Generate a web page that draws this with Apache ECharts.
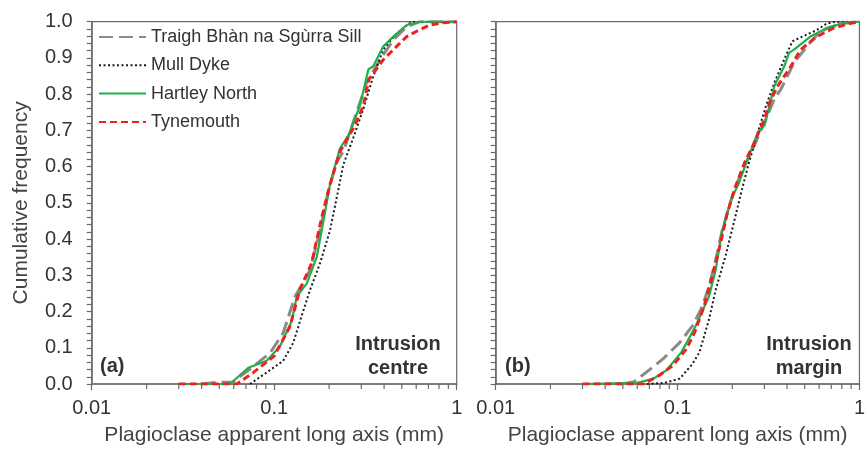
<!DOCTYPE html>
<html><head><meta charset="utf-8">
<script src="https://cdn.jsdelivr.net/npm/echarts@6/dist/echarts.min.js"></script>
<style>html,body{margin:0;padding:0;background:#fff}#c{width:868px;height:451px}</style>
</head><body><div id="c"></div>
<script>
const seriesNames = ['Traigh Bhàn na Sgùrra Sill', 'Mull Dyke', 'Hartley North', 'Tynemouth'];
const yTicks = ['0.0','0.1','0.2','0.3','0.4','0.5','0.6','0.7','0.8','0.9','1.0'];
const xMinorTicks = [0.02,0.03,0.04,0.05,0.06,0.07,0.08,0.09,0.2,0.3,0.4,0.5,0.6,0.7,0.8,0.9];

// Panel (a): intrusion centre
const traighA = [[0.04,0],[0.05,0.005],[0.059,0.005],[0.0737,0.041],[0.095,0.086],[0.112,0.141],[0.13,0.241],[0.157,0.314],[0.178,0.423],[0.198,0.532],[0.22,0.614],[0.239,0.641],[0.283,0.75],[0.321,0.832],[0.38,0.895],[0.45,0.95],[0.532,0.986],[0.63,1.0],[1,1]];
const mullA = [[0.0737,0],[0.091,0.032],[0.112,0.064],[0.127,0.113],[0.141,0.186],[0.157,0.259],[0.178,0.332],[0.202,0.423],[0.22,0.514],[0.239,0.605],[0.27,0.677],[0.308,0.759],[0.349,0.85],[0.396,0.923],[0.469,0.968],[0.556,0.997],[0.6,1],[1,1]];
const hartleyA = [[0.03,0],[0.0573,0],[0.0721,0.045],[0.091,0.064],[0.1076,0.104],[0.1247,0.173],[0.1328,0.241],[0.1507,0.277],[0.171,0.35],[0.182,0.423],[0.202,0.55],[0.229,0.65],[0.255,0.686],[0.295,0.768],[0.328,0.868],[0.349,0.877],[0.396,0.932],[0.45,0.959],[0.532,0.991],[0.63,1],[1,1]];
const tyneA = [[0.03,0],[0.0623,0],[0.077,0.032],[0.1,0.077],[0.122,0.159],[0.138,0.259],[0.16,0.332],[0.182,0.459],[0.202,0.55],[0.229,0.641],[0.277,0.714],[0.308,0.768],[0.33,0.84],[0.396,0.895],[0.469,0.932],[0.532,0.959],[0.6,0.973],[0.714,0.991],[0.845,0.997],[1,1]];

// Panel (b): intrusion margin
const traighB = [[0.05,0],[0.0575,0.006],[0.068,0.034],[0.0835,0.07],[0.103,0.115],[0.121,0.161],[0.137,0.215],[0.149,0.27],[0.162,0.342],[0.176,0.424],[0.199,0.515],[0.225,0.587],[0.255,0.641],[0.301,0.723],[0.341,0.787],[0.371,0.815],[0.437,0.887],[0.515,0.932],[0.58,0.962],[0.661,0.982],[0.813,0.995],[1,1]];
const mullB = [[0.068,0],[0.085,0.003],[0.103,0.015],[0.121,0.056],[0.132,0.088],[0.149,0.179],[0.162,0.26],[0.183,0.351],[0.199,0.424],[0.225,0.533],[0.245,0.605],[0.277,0.696],[0.307,0.769],[0.341,0.832],[0.386,0.896],[0.428,0.946],[0.486,0.959],[0.583,0.977],[0.661,0.995],[0.74,1],[1,1]];
const hartleyB = [[0.03,0],[0.06,0.003],[0.0738,0.015],[0.087,0.038],[0.105,0.088],[0.126,0.161],[0.149,0.242],[0.162,0.315],[0.176,0.424],[0.199,0.515],[0.216,0.551],[0.24,0.614],[0.277,0.696],[0.301,0.714],[0.341,0.823],[0.386,0.877],[0.41,0.914],[0.437,0.923],[0.537,0.959],[0.661,0.982],[0.813,0.997],[1,1]];
const tyneB = [[0.03,0],[0.0653,0],[0.08,0.025],[0.0946,0.052],[0.112,0.097],[0.124,0.142],[0.14,0.215],[0.155,0.297],[0.172,0.387],[0.187,0.469],[0.207,0.542],[0.235,0.614],[0.261,0.66],[0.301,0.732],[0.321,0.778],[0.356,0.823],[0.42,0.877],[0.475,0.923],[0.583,0.959],[0.718,0.982],[0.884,0.995],[1,1]];

const styles = [
  {color:'#8a8a8a', width:3, type:[14,6]},
  {color:'#1a1a1a', width:2, type:[2,2.5]},
  {color:'#1faf4b', width:2.2, type:'solid'},
  {color:'#ee2020', width:3, type:[7,4]}
];
const panels = [[traighA, mullA, hartleyA, tyneA],[traighB, mullB, hartleyB, tyneB]];
const FONT = 'Liberation Sans, Arial, sans-serif';
const AX = '#6a6a6a';

const chart = echarts.init(document.getElementById('c'), null, {renderer:'canvas'});
const grids = [
  {left:91.7, top:21.7, width:365, height:366.6},
  {left:495.7, top:21.7, width:371, height:366.6}
];
const xAxes = grids.map((g,i)=>({
  type:'log', logBase:10, min:0.01, max:1, gridIndex:i,
  name:'Plagioclase apparent long axis (mm)', nameLocation:'middle', nameGap:41,
  nameTextStyle:{fontFamily:FONT, fontSize:21, color:'#444'},
  axisLine:{lineStyle:{color:AX, width:1.5}},
  axisTick:{show:true, inside:false, length:6, lineStyle:{color:AX, width:1.2}},
  minorTick:{show:false},
  splitLine:{show:false},
  axisLabel:{fontFamily:FONT, fontSize:20, color:'#333', margin:14,
    formatter:v=>String(+v.toPrecision(3))}
}));
const yAxes = grids.map((g,i)=>({
  type:'value', min:0, max:1, interval:0.1, gridIndex:i,
  name: i===0 ? 'Cumulative frequency' : '', nameLocation:'middle', nameGap:60,
  nameTextStyle:{fontFamily:FONT, fontSize:21, color:'#444'},
  axisLine:{show:true, lineStyle:{color:AX, width:1.5}},
  axisTick:{show:true, inside:false, length:5, lineStyle:{color:AX, width:1.2}},
  minorTick:{show:true, splitNumber:5, length:5, lineStyle:{color:AX, width:1.2}},
  splitLine:{show:false},
  axisLabel:{show:i===0, fontFamily:FONT, fontSize:20, color:'#333', margin:19,
    formatter:(v)=>yTicks[Math.round(v*10)]}
}));

const series = [];
panels.forEach((sets, p)=>{
  sets.forEach((data, k)=>{
    series.push({
      type:'line', name:seriesNames[k], xAxisIndex:p, yAxisIndex:p,
      data:data, symbol:'none', smooth:false, silent:true,
      lineStyle:{color:styles[k].color, width:styles[k].width, type:styles[k].type},
      itemStyle:{color:styles[k].color}, z:2+k
    });
  });
  series.push({
    type:'custom', xAxisIndex:p, yAxisIndex:p, silent:true, clip:false, z:10,
    data:xMinorTicks.map(v=>[v,0]),
    renderItem:(params, api)=>{
      const pt = api.coord([api.value(0), 0]);
      return {type:'line', shape:{x1:pt[0], y1:pt[1], x2:pt[0], y2:pt[1]+5},
        style:{stroke:AX, lineWidth:1.2}};
    }
  });
});

chart.setOption({
  animation:false,
  grid: grids.map(g=>Object.assign({show:true, borderColor:AX, borderWidth:1.2, backgroundColor:'transparent'}, g)),
  xAxis:xAxes, yAxis:yAxes,
  legend:{
    data:seriesNames, orient:'vertical', left:93, top:23,
    itemWidth:47, itemHeight:14, itemGap:10.3,
    itemStyle:{opacity:0},
    textStyle:{fontFamily:FONT, fontSize:18, color:'#333', lineHeight:18}
  },
  graphic:[
    {type:'text', left:100, top:356, style:{text:'(a)', font:'bold 20px '+FONT, fill:'#333'}},
    {type:'text', left:505, top:356, style:{text:'(b)', font:'bold 20px '+FONT, fill:'#333'}},
    {type:'text', x:398, y:332, style:{text:'Intrusion\ncentre', font:'bold 20px '+FONT, fill:'#333', align:'center', lineHeight:24}},
    {type:'text', x:809, y:332, style:{text:'Intrusion\nmargin', font:'bold 20px '+FONT, fill:'#333', align:'center', lineHeight:24}}
  ],
  series:series
});
</script></body></html>
